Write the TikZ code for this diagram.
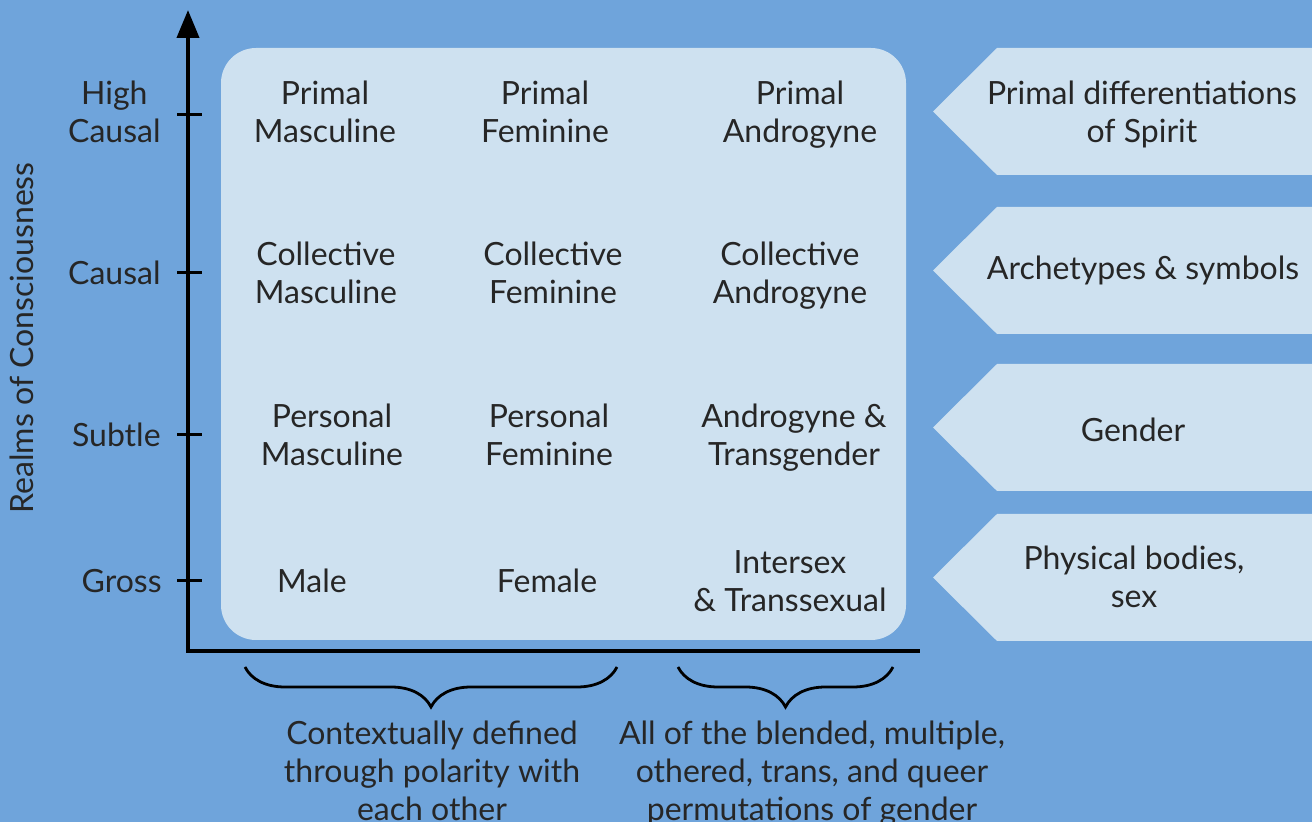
\documentclass[tikz,border=0pt]{standalone}
\usepackage{fontspec}
\setmainfont{Lato}
\usetikzlibrary{arrows.meta,decorations.pathreplacing}
\definecolor{bgblue}{RGB}{111,164,219}
\definecolor{paleblue}{RGB}{206,225,240}
\begin{document}
\begin{tikzpicture}[x=0.5pt,y=-0.5pt,
  every node/.style={font=\fontsize{16}{19}\selectfont, align=center, text=black!85, inner sep=0pt},
  axis/.style={black, line width=2pt},
  tickmark/.style={black, line width=1.5pt},
  bracket/.style={black, line width=1.4pt, decorate, decoration={brace, amplitude=20pt}},
  tag/.style={fill=paleblue}]
  \fill[bgblue] (0,0) rectangle (1312,822);
  \useasboundingbox (0,0) rectangle (1312,822);
  \fill[paleblue, rounded corners=17.5pt] (221,48) rectangle (906,640);
  \foreach \t in {48,207,364,514}
    \fill[tag] (933,\t+63.5) -- (997,\t) -- (1330,\t) -- (1330,\t+127) -- (997,\t+127) -- cycle;
  \coordinate (top) at (188,10);
  \coordinate (origin) at (188,651);
  \coordinate (right) at (920,651);
  \draw[axis, {Triangle[length=14pt,width=11pt]}-] (top) -- (origin) -- (right);
  \foreach \y in {115,273,435,581}
    \draw[tickmark] (177,\y) -- (202,\y);
  \node[anchor=east] (highcausal) at (161,112) {High\\Causal};
  \node[anchor=east] (causal) at (161,273) {Causal};
  \node[anchor=east] (subtle) at (161,435) {Subtle};
  \node[anchor=east] (gross) at (162,581) {Gross};
  \node[rotate=90] (realms) at (22,338) {Realms of Consciousness};
  \node (primalm) at (325,112) {Primal\\Masculine};
  \node (primalf) at (545,112) {Primal\\Feminine};
  \node (primala) at (800,115) {Primal\\Androgyne};
  \node (collm) at (326,273) {Collective\\Masculine};
  \node (collf) at (553,273) {Collective\\Feminine};
  \node (colla) at (790,276) {Collective\\Androgyne};
  \node (persm) at (332,435) {Personal\\Masculine};
  \node (persf) at (549,435) {Personal\\Feminine};
  \node (trans) at (794,438) {Androgyne \&\\Transgender};
  \node (male) at (312,581) {Male};
  \node (female) at (547,581) {Female};
  \node (intersex) at (790,581) {Intersex\\\& Transsexual};
  \node (spirit) at (1142,114) {Primal differentiations\\of Spirit};
  \node (arche) at (1143,270) {Archetypes \& symbols};
  \node (gender) at (1133,430) {Gender};
  \node (bodies) at (1134,577) {Physical bodies,\\sex};
  \coordinate (b1l) at (245,667);
  \coordinate (b1r) at (617,667);
  \coordinate (b2l) at (678,667);
  \coordinate (b2r) at (893,667);
  \draw[bracket] (b1r) -- (b1l);
  \draw[bracket] (b2r) -- (b2l);
  \node (polar) at (432,771) {Contextually defined\\through polarity with\\each other};
  \node (queer) at (812,774) {All of the blended, multiple,\\othered, trans, and queer\\permutations of gender};
\end{tikzpicture}
\end{document}
